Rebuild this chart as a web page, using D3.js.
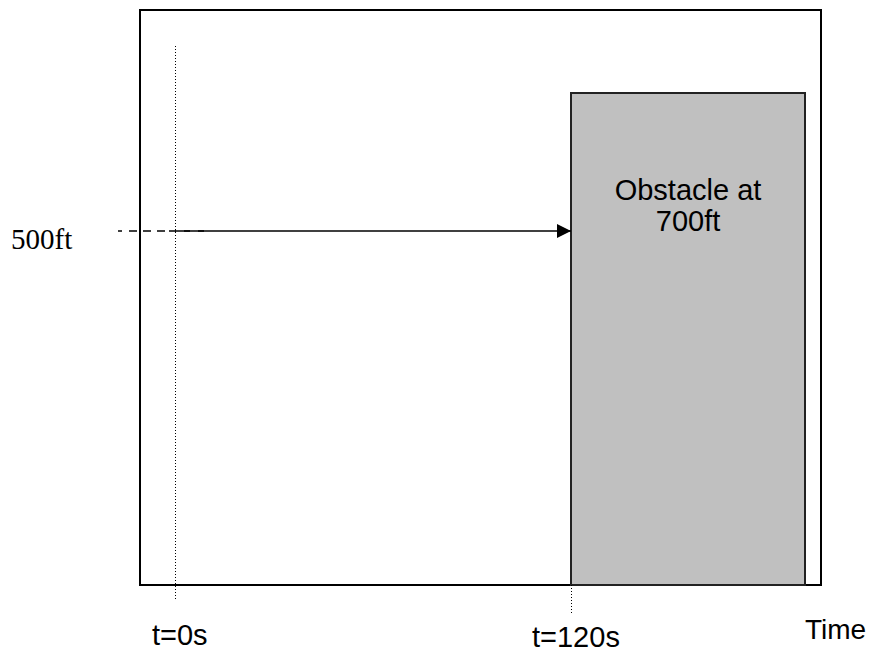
<!DOCTYPE html>
<html>
<head>
<meta charset="utf-8">
<script src="https://cdnjs.cloudflare.com/ajax/libs/d3/7.8.5/d3.min.js"></script>
<style>
  body { margin: 0; background: #fff; }
  svg { display: block; }
</style>
</head>
<body>
<div id="main"></div>
<script>
var timeMarks = [0, 120];            // seconds
var timeLabels = ["t=0s", "t=120s"];
var altitude = [500];                // ft, flight level
var altitudeLabels = ["500ft"];
var obstacle = [{start: 120, height: 700, label: ["Obstacle at", "700ft"]}];

var W = 871, H = 653;
var frame = {left: 140, top: 10, right: 821, bottom: 585};
var sans = "'Liberation Sans', Arial, sans-serif";

var svg = d3.select("#main").append("svg")
  .attr("width", W)
  .attr("height", H);//create canvas

var x = d3.scaleLinear().domain([0, 120]).range([175, 571]);//time scale
var y = d3.scaleLinear().domain([500, 700]).range([231, 93]);//altitude scale

svg.append("defs").append("marker")
  .attr("id", "arrow")
  .attr("viewBox", "0 0 10 10")
  .attr("refX", 10)
  .attr("refY", 5)
  .attr("markerWidth", 15)
  .attr("markerHeight", 14)
  .attr("markerUnits", "userSpaceOnUse")
  .attr("orient", "auto")
  .append("path")
  .attr("d", "M0,0L10,5L0,10Z")
  .attr("fill", "#000");//arrow head

// outer frame
svg.append("rect")
  .attr("x", frame.left)
  .attr("y", frame.top)
  .attr("width", frame.right - frame.left)
  .attr("height", frame.bottom - frame.top)
  .attr("fill", "none")
  .attr("stroke", "#000")
  .attr("stroke-width", 2);

// obstacle block
var obs = svg.selectAll(".obstacle").data(obstacle).enter().append("g")
  .attr("class", "obstacle");
obs.append("rect")
  .attr("x", function(d) { return x(d.start); })
  .attr("y", function(d) { return y(d.height); })
  .attr("width", function(d) { return frame.right - 16 - x(d.start); })
  .attr("height", function(d) { return frame.bottom - y(d.height); })
  .attr("fill", "#c0c0c0")
  .attr("stroke", "#222")
  .attr("stroke-width", 2);
obs.each(function(d) {
  var g = d3.select(this);
  var cx = (x(d.start) + frame.right - 16) / 2;
  d.label.forEach(function(t, i) {
    g.append("text")
      .attr("x", cx)
      .attr("y", 200 + i * 31)
      .attr("text-anchor", "middle")
      .style("font-family", sans)
      .style("font-size", "29px")
      .text(t);
  });
});

// dotted time markers
svg.selectAll(".tline").data(timeMarks).enter().append("line")
  .attr("class", "tline")
  .attr("x1", function(d) { return x(d) + 0.5; })
  .attr("x2", function(d) { return x(d) + 0.5; })
  .attr("y1", function(d, i) { return i == 0 ? 46 : frame.bottom; })
  .attr("y2", function(d, i) { return i == 0 ? 600 : 614; })
  .attr("stroke", "#000")
  .attr("stroke-width", 1)
  .attr("stroke-dasharray", "1,2");

svg.selectAll(".tlabel").data(timeMarks).enter().append("text")
  .attr("class", "tlabel")
  .attr("x", function(d, i) { return x(d) - (i == 0 ? 23 : 39); })
  .attr("y", function(d, i) { return i == 0 ? 645 : 647; })
  .style("font-family", sans)
  .style("font-size", "29px")
  .text(function(d, i) { return timeLabels[i]; });

svg.append("text")
  .attr("x", 805)
  .attr("y", 639)
  .style("font-family", sans)
  .style("font-size", "28px")
  .text("Time");

// altitude dashed tick + arrow
svg.selectAll(".alt").data(altitude).enter().append("line")
  .attr("class", "alt")
  .attr("x1", 118)
  .attr("x2", 207)
  .attr("y1", function(d) { return y(d); })
  .attr("y2", function(d) { return y(d); })
  .attr("stroke", "#000")
  .attr("stroke-width", 1.5)
  .attr("stroke-dasharray", "4,7,8,6,8,6,8");

svg.selectAll(".path").data(altitude).enter().append("line")
  .attr("class", "path")
  .attr("x1", x(timeMarks[0]))
  .attr("x2", x(timeMarks[1]))
  .attr("y1", function(d) { return y(d); })
  .attr("y2", function(d) { return y(d); })
  .attr("stroke", "#000")
  .attr("stroke-width", 1.5)
  .attr("marker-end", "url(#arrow)");

svg.selectAll(".altlabel").data(altitude).enter().append("text")
  .attr("class", "altlabel")
  .attr("x", 11)
  .attr("y", function(d) { return y(d) + 18; })
  .style("font-family", "'Liberation Serif', 'Times New Roman', serif")
  .style("font-size", "29px")
  .text(function(d, i) { return altitudeLabels[i]; });
</script>
</body>
</html>
